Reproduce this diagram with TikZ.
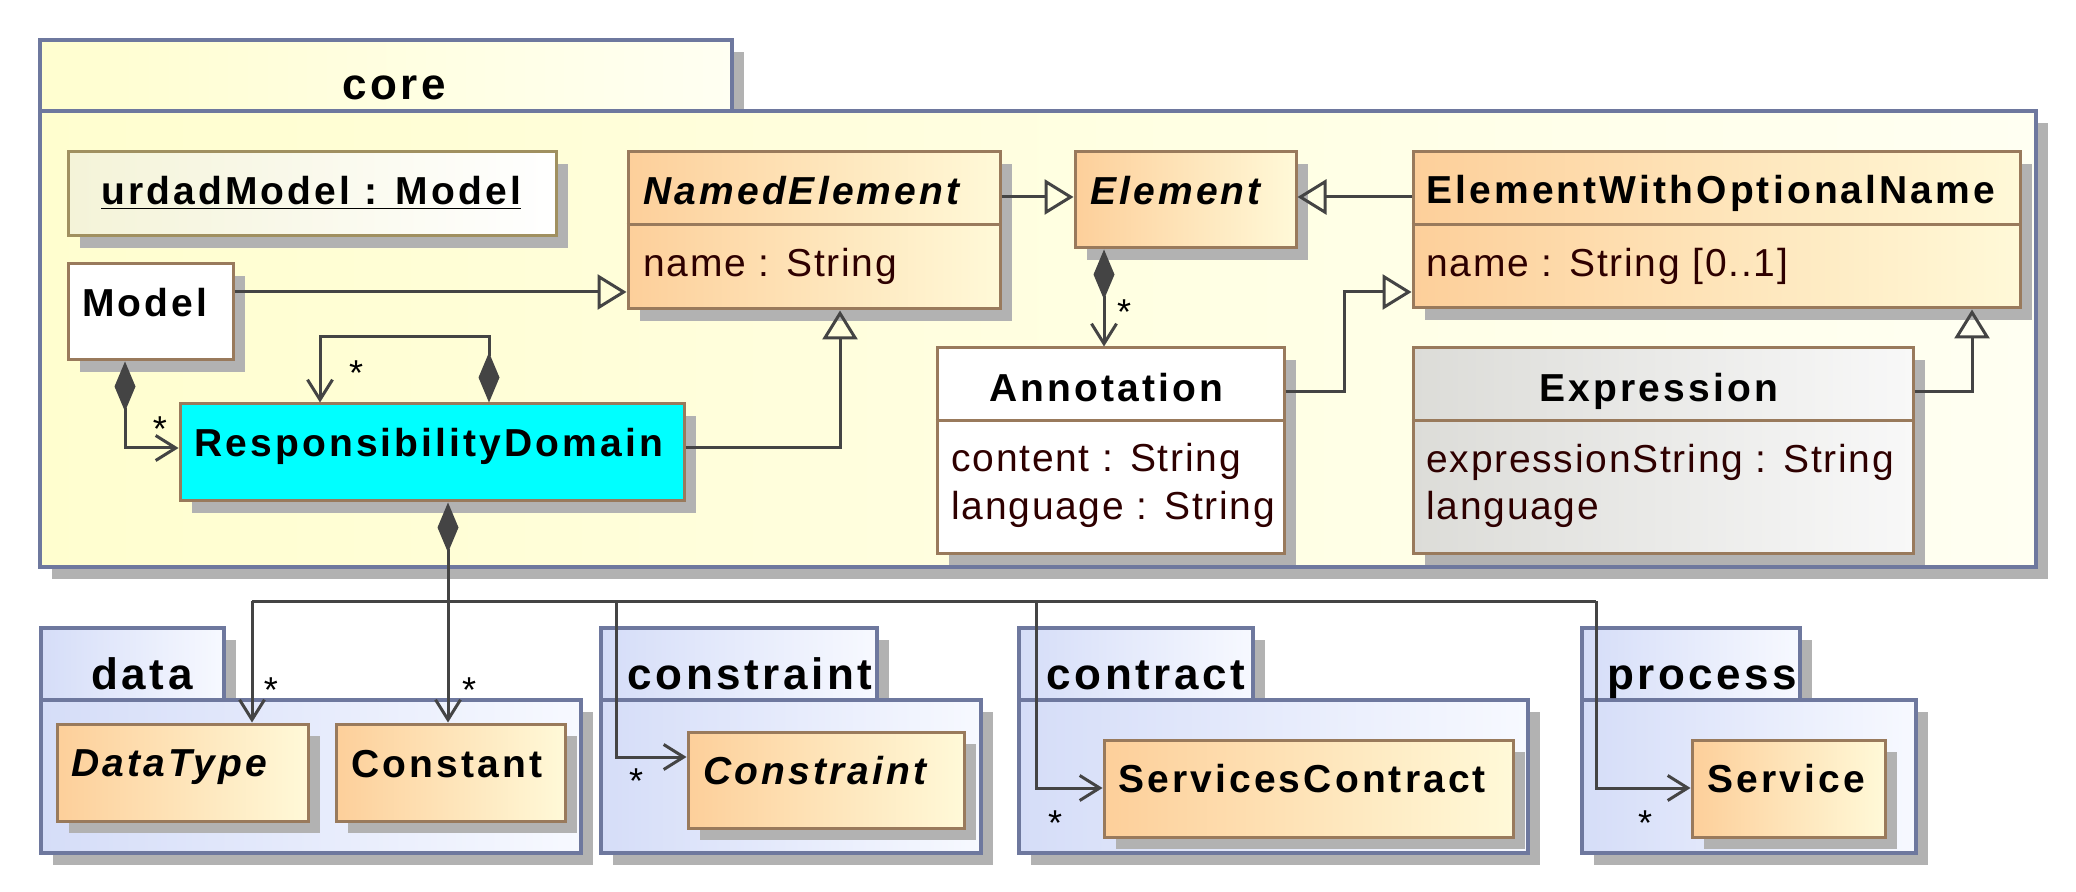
\documentclass[tikz,border=0pt]{standalone}
\usepackage{fontspec}
\setmainfont{Liberation Sans}
\newfontfamily\clsfont[LetterSpace=8]{Liberation Sans}
\newfontfamily\attfont[LetterSpace=4.5]{Liberation Sans}
\usetikzlibrary{arrows.meta,shadows,fit}

\definecolor{pkgline}{HTML}{6E789E}
\definecolor{clsline}{HTML}{997A5C}
\definecolor{lnk}{HTML}{444444}
\definecolor{shd}{HTML}{B2B2B2}
\definecolor{coreA}{HTML}{FFFECF}
\definecolor{coreB}{HTML}{FFFFF2}
\definecolor{pkgA}{HTML}{D5DDF8}
\definecolor{pkgB}{HTML}{F7F9FF}
\definecolor{clsA}{HTML}{FDCF9A}
\definecolor{clsB}{HTML}{FFF9D8}
\definecolor{objA}{HTML}{F4F3D8}
\definecolor{objB}{HTML}{FFFFFF}
\definecolor{expA}{HTML}{DCDCD8}
\definecolor{expB}{HTML}{F8F8F8}
\definecolor{attr}{HTML}{2E0000}
\definecolor{rdcyan}{HTML}{00FFFF}

\tikzset{
  pkgbox/.style={draw=pkgline, line width=2pt, left color=pkgA, right color=pkgB, inner sep=0pt,
    drop shadow={shadow xshift=6pt, shadow yshift=-6pt, fill=shd, opacity=1}},
  corebox/.style={pkgbox, left color=coreA, right color=coreB},
  clsbox/.style={draw=clsline, line width=1.5pt, inner sep=0pt,
    drop shadow={shadow xshift=6pt, shadow yshift=-6pt, fill=shd, opacity=1}},
  orangecls/.style={clsbox, left color=clsA, right color=clsB},
  whitecls/.style={clsbox, fill=white},
  cyancls/.style={clsbox, fill=rdcyan},
  greycls/.style={clsbox, left color=expA, right color=expB},
  objbox/.style={clsbox, draw=objline, left color=objA, right color=objB},
  divider/.style={draw=clsline, line width=1.5pt},
  clsname/.style={font=\clsfont\fontsize{19.5}{22}\selectfont\bfseries, inner sep=0pt, anchor=base west},
  attname/.style={font=\attfont\fontsize{19.5}{22}\selectfont, text=attr, inner sep=0pt, anchor=base west},
  pkgname/.style={font=\clsfont\fontsize{22}{26}\selectfont\bfseries, inner sep=0pt, anchor=base},
  mult/.style={font=\fontsize{18}{20}\selectfont, inner sep=0pt, anchor=base},
  link/.style={draw=lnk, line width=1.5pt},
  gen/.style={link, -{Triangle[open, length=14.5pt, width=17.5pt]}},
  assoc/.style={link, -{Straight Barb[length=10pt, width=12.5pt]}},
  comp/.style={link, {Diamond[length=25pt, width=10.5pt]}-{Straight Barb[length=10pt, width=12.5pt]}}
}
\definecolor{objline}{HTML}{A09060}

\begin{document}
\begin{tikzpicture}[x=0.5pt,y=0.5pt,yscale=-1,xscale=1]
\useasboundingbox (0,0) rectangle (2076,892);

%Shape: Package core
\node [corebox, fit={(40,40) (732,111)}] (coreTab) {};
\node [corebox, fit={(40,111) (2036,567)}] (coreBody) {};
%Shape: Package data
\node [pkgbox, fit={(41,628) (224,700)}] (dataTab) {};
\node [pkgbox, fit={(41,700) (581,853)}] (dataBody) {};
%Shape: Package constraint
\node [pkgbox, fit={(601,628) (877,700)}] (constraintTab) {};
\node [pkgbox, fit={(601,700) (981,853)}] (constraintBody) {};
%Shape: Package contract
\node [pkgbox, fit={(1019,628) (1253,700)}] (contractTab) {};
\node [pkgbox, fit={(1019,700) (1528,853)}] (contractBody) {};
%Shape: Package process
\node [pkgbox, fit={(1582,628) (1800,700)}] (processTab) {};
\node [pkgbox, fit={(1582,700) (1916,853)}] (processBody) {};

%Shape: Classes in core
\node [objbox, fit={(68,152) (556,236)}] (urdad) {};
\node [whitecls, fit={(68,264) (233,360)}] (model) {};
\node [orangecls, fit={(628,152) (1000,309)}] (named) {};
\node [orangecls, fit={(1075,152) (1296,248)}] (element) {};
\node [orangecls, fit={(1413,152) (2020,308)}] (optional) {};
\node [whitecls, fit={(937,348) (1284,553)}] (annotation) {};
\node [greycls, fit={(1413,348) (1913,553)}] (expression) {};
\node [cyancls, fit={(180,404) (684,501)}] (respdomain) {};
%Straight Lines: compartments
\draw [divider] (named.west |- 0,225) -- (named.east |- 0,225) ;
\draw [divider] (optional.west |- 0,225) -- (optional.east |- 0,225) ;
\draw [divider] (annotation.west |- 0,421) -- (annotation.east |- 0,421) ;
\draw [divider] (expression.west |- 0,421) -- (expression.east |- 0,421) ;

%Shape: Classes in data, constraint, contract, process
\node [orangecls, fit={(57,724) (308,821)}] (datatype) {};
\node [orangecls, fit={(336,724) (565,821)}] (constant) {};
\node [orangecls, fit={(688,732) (964,828)}] (constraint) {};
\node [orangecls, fit={(1104,740) (1513,837)}] (contract) {};
\node [orangecls, fit={(1692,740) (1885,837)}] (service) {};

%Straight Lines: generalizations
\draw [gen] (model.east |- 0,292) -- (named.west |- 0,292) ;
\draw [gen] (named.east |- 0,197) -- (element.west |- 0,197) ;
\draw [gen] (optional.west |- 0,197) -- (element.east |- 0,197) ;
\draw [gen] (respdomain.east |- 0,448) -- (840,448) -- (named.south -| 840,0) ;
\draw [gen] (annotation.east |- 0,392) -- (1344,392) -- (1344,292) -- (optional.west |- 0,292) ;
\draw [gen] (expression.east |- 0,392) -- (1972,392) -- (optional.south -| 1972,0) ;

%Straight Lines: compositions
\draw [comp] (element.south -| 1104,0) -- (annotation.north -| 1104,0) ;
\draw [comp] (model.south -| 125,0) -- (125,448) -- (respdomain.west |- 0,448) ;
\draw [comp] (respdomain.north -| 489,0) -- (489,337) -- (320,337) -- (respdomain.north -| 320,0) ;
\draw [comp] (respdomain.south -| 448,0) -- (constant.north -| 448,0) ;

%Straight Lines: bus to the other packages
\coordinate (busA) at (252,601);
\coordinate (busB) at (616,601);
\coordinate (busC) at (1036,601);
\coordinate (busD) at (1596,601);
\draw [link] (busA) -- (busD) ;
\draw [assoc] (busA) -- (datatype.north -| busA) ;
\draw [assoc] (busB) -- (busB |- 0,757) -- (constraint.west |- 0,757) ;
\draw [assoc] (busC) -- (busC |- 0,788) -- (contract.west |- 0,788) ;
\draw [assoc] (busD) -- (busD |- 0,788) -- (service.west |- 0,788) ;

% Text Node
\draw (394,100) node [pkgname] (coreLbl) {core};
\draw (142,689) node [pkgname] (dataLbl) {data};
\draw (750,689) node [pkgname] (constraintLbl) {constraint};
\draw (1146,689) node [pkgname] (contractLbl) {contract};
\draw (1702,689) node [pkgname] (processLbl) {process};
% Text Node
\draw (311,205) node [clsname, anchor=base] (urdadLbl) {\underline{urdadModel : Model}};
\draw (82,317) node [clsname] (modelLbl) {Model};
\draw (643,205) node [clsname] (namedLbl) {\itshape NamedElement};
\draw (643,277) node [attname] (namedAttr) {name : String};
\draw (1090,205) node [clsname] (elementLbl) {\itshape Element};
\draw (1426,204) node [clsname] (optionalLbl) {ElementWithOptionalName};
\draw (1426,277) node [attname] (optionalAttr) {name : String [0..1]};
\draw (1106,402) node [clsname, anchor=base] (annotationLbl) {Annotation};
\draw (951,472) node [attname] (annotationAttrA) {content : String};
\draw (951,520) node [attname] (annotationAttrB) {language : String};
\draw (1659,402) node [clsname, anchor=base] (expressionLbl) {Expression};
\draw (1426,473) node [attname] (expressionAttrA) {expressionString : String};
\draw (1426,519) node [attname] (expressionAttrB) {language};
\draw (194,457) node [clsname] (respdomainLbl) {ResponsibilityDomain};
\draw (71,776) node [clsname] (datatypeLbl) {\itshape DataType};
\draw (351,777) node [clsname] (constantLbl) {Constant};
\draw (703,784) node [clsname] (constraintLbl2) {\itshape Constraint};
\draw (1118,792) node [clsname] (contractLbl2) {ServicesContract};
\draw (1707,792) node [clsname] (serviceLbl) {Service};
% Text Node: multiplicities
\draw (1124,325) node [mult] (mAnnotation) {*};
\draw (160,442) node [mult] (mModel) {*};
\draw (356,386) node [mult] (mLoop) {*};
\draw (271,702) node [mult] (mDataType) {*};
\draw (469,702) node [mult] (mConstant) {*};
\draw (636,793) node [mult] (mConstraint) {*};
\draw (1055,835) node [mult] (mContract) {*};
\draw (1645,835) node [mult] (mService) {*};

\end{tikzpicture}
\end{document}
